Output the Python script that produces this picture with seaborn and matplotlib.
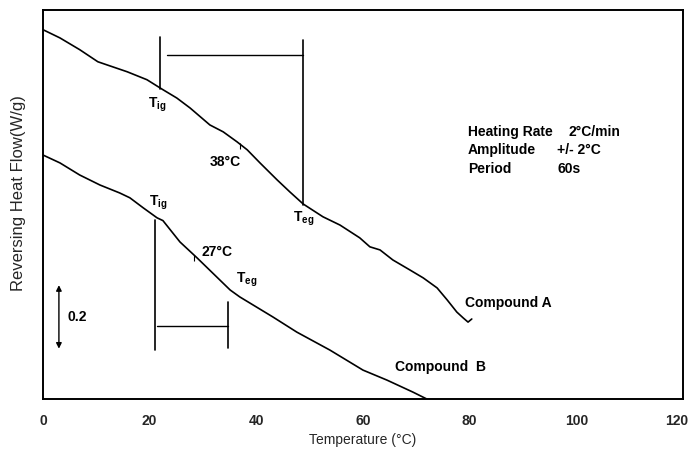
import numpy as np
import pandas as pd
import matplotlib
matplotlib.use("Agg")
import matplotlib.pyplot as plt
import matplotlib.transforms as mtransforms
import seaborn as sns

# Curvas (Temperatura em °C, fluxo de calor reversível em W/g)
temp_a = [0.0, 3.2, 6.9, 10.3, 12.0, 15.8, 19.5, 22.3, 25.1, 27.6, 31.3, 33.8, 36.4, 38.3,
          40.7, 43.9, 46.3, 48.8, 52.5, 55.7, 59.4, 61.3, 63.2, 65.6, 68.8, 71.3, 73.9,
          75.8, 77.6, 78.8, 79.7, 80.4]
flow_a = [1.070, 1.046, 1.012, 0.977, 0.968, 0.948, 0.925, 0.898, 0.872, 0.843, 0.794, 0.774,
          0.745, 0.722, 0.684, 0.635, 0.600, 0.565, 0.528, 0.504, 0.467, 0.441, 0.432, 0.403,
          0.374, 0.351, 0.322, 0.287, 0.252, 0.235, 0.223, 0.232]

temp_b = [0.0, 3.2, 6.9, 10.7, 14.4, 16.3, 18.8, 21.4, 22.5, 25.7, 28.9, 35.1, 36.9, 43.1,
          47.6, 53.8, 60.0, 64.5, 69.4, 72.0]
flow_b = [0.707, 0.684, 0.649, 0.620, 0.597, 0.583, 0.554, 0.525, 0.517, 0.455, 0.409, 0.316,
          0.296, 0.238, 0.194, 0.142, 0.084, 0.055, 0.020, 0.000]

# Marcações de Tig / Teg (colchetes)
bracket_a_x = [21.9, 21.9, 48.8, 48.8]
bracket_a_y = [1.049, 0.899, 1.041, 0.562]
bracket_a_h = [23.3, 48.8, 0.997]
bracket_b_x = [21.1, 21.1, 34.7, 34.7]
bracket_b_y = [0.519, 0.142, 0.281, 0.148]
bracket_b_h = [21.4, 34.7, 0.212]

# pontos de inflexão (38 °C e 27 °C)
inflex_x = [37.0, 28.4]
inflex_y = [0.733, 0.408]

x_ticks = [0, 20, 40, 60, 80, 100, 120]

df = pd.concat([
    pd.DataFrame({"temp": temp_a, "flow": flow_a, "amostra": "Compound A"}),
    pd.DataFrame({"temp": temp_b, "flow": flow_b, "amostra": "Compound B"}),
])

sns.set_style("white")
plt.rcParams['font.family'] = ['Liberation Sans', 'DejaVu Sans']

fig = plt.figure(figsize=(6.92, 4.53), dpi=100)
ax = fig.add_axes([0.062, 0.119, 0.925, 0.859])

sns.lineplot(data=df, x="temp", y="flow", hue="amostra", palette=["black", "black"],
             linewidth=1.2, legend=False, ax=ax, sort=False, estimator=None)

# colchetes
for bx, by, bh in [(bracket_a_x, bracket_a_y, bracket_a_h), (bracket_b_x, bracket_b_y, bracket_b_h)]:
    ax.plot([bx[0], bx[1]], [by[0], by[1]], color="black", lw=1.2)
    ax.plot([bx[2], bx[3]], [by[2], by[3]], color="black", lw=1.2)
    ax.plot([bh[0], bh[1]], [bh[2], bh[2]], color="black", lw=1.0)

ax.plot(inflex_x, inflex_y, linestyle="none", marker="|", markersize=4, color="black", mew=0.8)

# rótulos
kw = dict(fontsize=10, fontweight="bold", color="black")
ax.text(21.4, 0.852, r"T$_{\mathregular{ig}}$", ha="center", va="center", **kw)
ax.text(34.1, 0.687, "38°C", ha="center", va="center", **kw)
ax.text(48.8, 0.522, r"T$_{\mathregular{eg}}$", ha="center", va="center", **kw)
ax.text(21.6, 0.568, r"T$_{\mathregular{ig}}$", ha="center", va="center", **kw)
ax.text(32.6, 0.426, "27°C", ha="center", va="center", **kw)
ax.text(38.2, 0.345, r"T$_{\mathregular{eg}}$", ha="center", va="center", **kw)
ax.text(79.2, 0.278, "Compound A", ha="left", va="center", **kw)
ax.text(66.0, 0.093, "Compound  B", ha="left", va="center", **kw)

ax.text(79.7, 0.775, "Heating Rate", ha="left", va="center", **kw)
ax.text(79.7, 0.720, "Amplitude", ha="left", va="center", **kw)
ax.text(79.7, 0.667, "Period", ha="left", va="center", **kw)
ax.text(98.5, 0.775, "2°C/min", ha="left", va="center", **kw)
ax.text(96.4, 0.720, "+/- 2°C", ha="left", va="center", **kw)
ax.text(96.4, 0.667, "60s", ha="left", va="center", **kw)

# barra de escala 0.2 W/g
ax.annotate("", xy=(3.0, 0.138), xytext=(3.0, 0.338),
            arrowprops=dict(arrowstyle="<|-|>", color="black", lw=1.0, mutation_scale=8))
ax.text(4.6, 0.238, "0.2", ha="left", va="center", **kw)

ax.set_xlim(0, 120)
ax.set_ylim(0, 1.127)
ax.set_xticks(x_ticks)
ax.set_xticklabels([str(t) for t in x_ticks], fontsize=10, fontweight="bold")
ax.set_yticks([])
ax.tick_params(axis="x", direction="in", length=4, width=1, pad=11)

# desloca o "120" um pouco para a esquerda, para não cortar na borda
ultimo = ax.get_xticklabels()[-1]
ultimo.set_transform(ultimo.get_transform() +
                     mtransforms.ScaledTranslation(-0.06, 0, fig.dpi_scale_trans))

ax.set_xlabel("Temperature (°C)", fontsize=10, labelpad=3)
ax.set_ylabel("Reversing Heat Flow(W/g)", fontsize=12)
ax.yaxis.set_label_coords(-0.026, 0.53)
for s in ax.spines.values():
    s.set_color("black")
    s.set_linewidth(1.4)

fig.savefig("out.png", dpi=100)
